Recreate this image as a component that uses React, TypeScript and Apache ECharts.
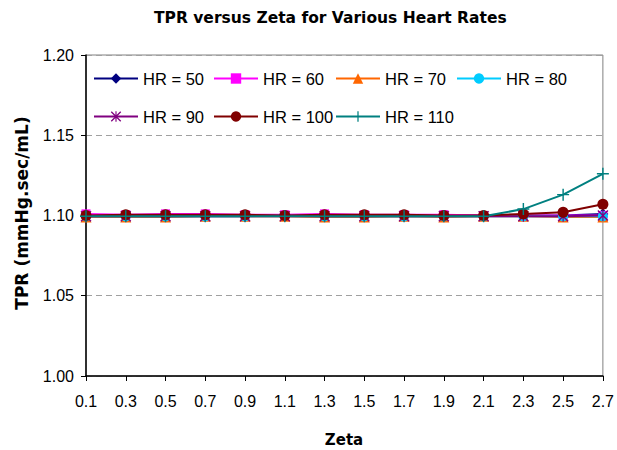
import React, { useEffect, useRef } from "react";
import * as echarts from "echarts";

const zeta = ["0.1", "0.3", "0.5", "0.7", "0.9", "1.1", "1.3", "1.5", "1.7", "1.9", "2.1", "2.3", "2.5", "2.7"];
const hr50 = [1.1, 1.1, 1.1, 1.1, 1.1, 1.1, 1.1, 1.1, 1.1, 1.1, 1.1, 1.1, 1.1, 1.101];
const hr60 = [1.101, 1.1005, 1.101, 1.101, 1.1005, 1.1005, 1.101, 1.1005, 1.1005, 1.1005, 1.1, 1.1, 1.1, 1.1];
const hr70 = [1.099, 1.099, 1.099, 1.0995, 1.0995, 1.0995, 1.099, 1.099, 1.0995, 1.099, 1.0995, 1.0995, 1.099, 1.099];
const hr80 = [1.0995, 1.0995, 1.0995, 1.0995, 1.0995, 1.1, 1.0995, 1.0995, 1.0995, 1.0995, 1.0995, 1.0995, 1.0995, 1.0995];
const hr90 = [1.0995, 1.0995, 1.0995, 1.0995, 1.0995, 1.0995, 1.0995, 1.0995, 1.0995, 1.0995, 1.0995, 1.0995, 1.0995, 1.1];
const hr100 = [1.1, 1.1005, 1.1005, 1.1005, 1.1005, 1.1, 1.1005, 1.1005, 1.1005, 1.1, 1.1, 1.101, 1.102, 1.107];
const hr110 = [1.0995, 1.0995, 1.0995, 1.0995, 1.0995, 1.0995, 1.0995, 1.0995, 1.0995, 1.0995, 1.0995, 1.104, 1.113, 1.126];

const seriesNames = ["HR = 50", "HR = 60", "HR = 70", "HR = 80", "HR = 90", "HR = 100", "HR = 110"];
const seriesData = [hr50, hr60, hr70, hr80, hr90, hr100, hr110];
const seriesColors = ["#000080", "#FF00FF", "#FF6600", "#00CCFF", "#800080", "#800000", "#008080"];

const ASTERISK =
  "path://M0.5,-0.5 L10.5,9.5 L9.5,10.5 L-0.5,0.5 Z M9.5,-0.5 L10.5,0.5 L0.5,10.5 L-0.5,9.5 Z M4.4,-0.5 L5.6,-0.5 L5.6,10.5 L4.4,10.5 Z";
const PLUS =
  "path://M4.4,0 L5.6,0 L5.6,4.4 L10,4.4 L10,5.6 L5.6,5.6 L5.6,10 L4.4,10 L4.4,5.6 L0,5.6 L0,4.4 L4.4,4.4 Z";
const seriesSymbols = ["diamond", "rect", "triangle", "circle", ASTERISK, "circle", PLUS];
const seriesSymbolSizes = [11, 9, 11, 10, 11, 11, 12];

const legendPos = [
  [93, 70],
  [213, 70],
  [335, 70],
  [456, 70],
  [93, 108],
  [213, 108],
  [335, 108],
];

export default function App() {
  const ref = useRef<HTMLDivElement>(null);
  useEffect(() => {
    if (!ref.current) return;
    const chart = echarts.init(ref.current, undefined, { renderer: "svg" });
    chart.setOption({
      animation: false,
      backgroundColor: "#ffffff",
      title: {
        text: "TPR versus Zeta for Various Heart Rates",
        left: 154,
        top: 10,
        padding: 0,
        textStyle: { fontFamily: "DejaVu Sans", fontWeight: "bold", fontSize: 15.5, color: "#000" },
      },
      legend: seriesNames.map((n, i) => ({
        data: [n],
        left: legendPos[i][0],
        top: legendPos[i][1],
        padding: 0,
        itemWidth: 44,
        itemHeight: 13,
        textStyle: { fontFamily: "Liberation Sans", fontSize: 16.5, color: "#000" },
      })),
      grid: {
        left: 86,
        right: 14,
        top: 55,
        bottom: 74,
        show: true,
        borderColor: "#808080",
        borderWidth: 1,
      },
      xAxis: {
        type: "category",
        data: zeta,
        boundaryGap: false,
        axisLine: { lineStyle: { color: "#000", width: 1.5 } },
        axisTick: { show: true, interval: 0, length: 5, lineStyle: { color: "#000" } },
        axisLabel: { interval: 0, margin: 17, fontFamily: "Liberation Sans", fontSize: 16, color: "#000" },
        splitLine: { show: false },
      },
      yAxis: {
        type: "value",
        min: 1.0,
        max: 1.2,
        interval: 0.05,
        axisLine: { show: true, lineStyle: { color: "#000", width: 1.5 } },
        axisTick: { show: true, length: 5, lineStyle: { color: "#000" } },
        axisLabel: {
          margin: 12,
          fontFamily: "Liberation Sans",
          fontSize: 16,
          color: "#000",
          formatter: (v: number) => v.toFixed(2),
        },
        splitLine: { show: true, lineStyle: { color: "#a0a0a0", type: [6, 4], width: 1 } },
      },
      graphic: [
        {
          type: "text",
          x: 22,
          y: 213,
          rotation: Math.PI / 2,
          style: {
            text: "TPR (mmHg.sec/mL)",
            align: "center",
            verticalAlign: "middle",
            fontFamily: "DejaVu Sans",
            fontWeight: "bold",
            fontSize: 17,
            fill: "#000",
          },
        },
        {
          type: "text",
          x: 344,
          y: 440,
          style: {
            text: "Zeta",
            align: "center",
            verticalAlign: "middle",
            fontFamily: "DejaVu Sans",
            fontWeight: "bold",
            fontSize: 15,
            fill: "#000",
          },
        },
      ],
      series: seriesNames.map((n, i) => ({
        name: n,
        type: "line",
        data: seriesData[i],
        symbol: seriesSymbols[i],
        symbolSize: seriesSymbolSizes[i],
        showAllSymbol: true,
        lineStyle: { color: seriesColors[i], width: 2 },
        itemStyle: { color: seriesColors[i], borderWidth: 0 },
        emphasis: { disabled: true },
      })),
    });
    return () => chart.dispose();
  }, []);
  return <div ref={ref} style={{ position: "fixed", left: 0, top: 0, width: 617, height: 450 }} />;
}
